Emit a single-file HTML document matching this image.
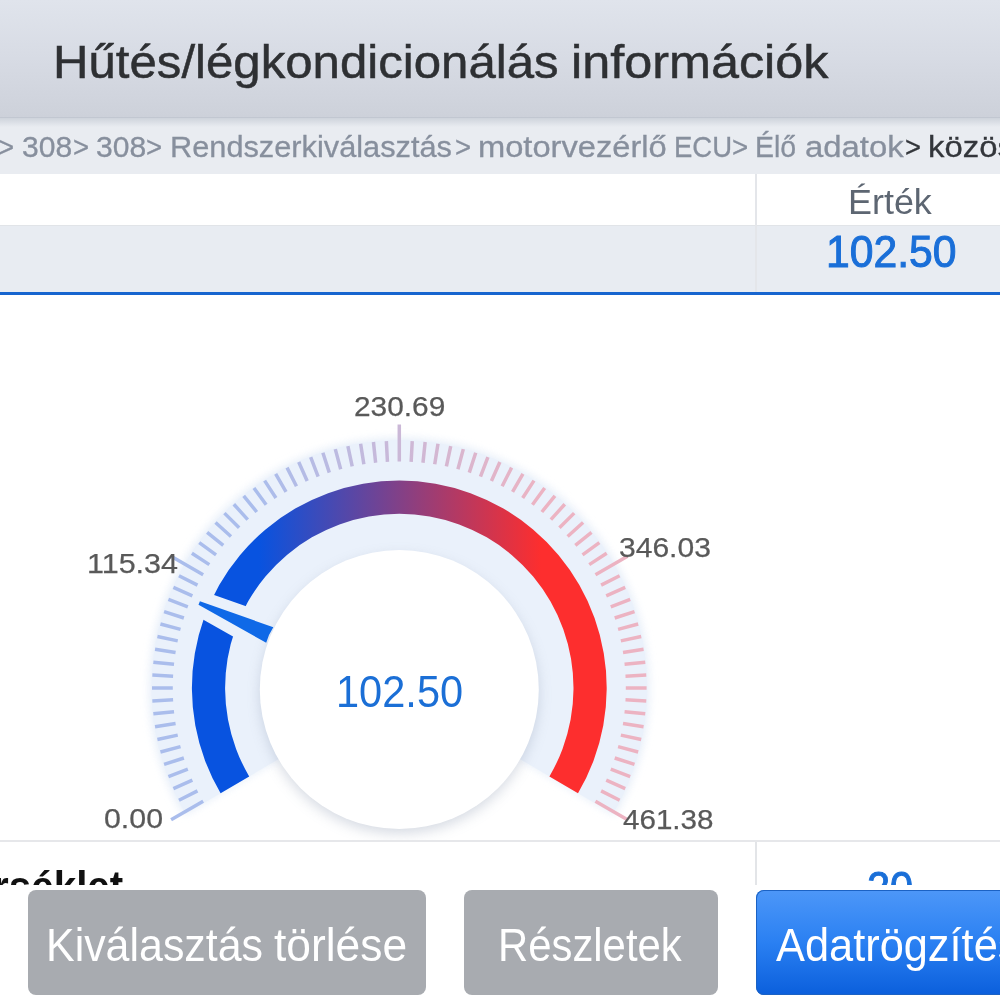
<!DOCTYPE html>
<html lang="hu"><head><meta charset="utf-8"><title>Hűtés/légkondicionálás információk</title>
<style>
html,body{margin:0;padding:0;}
body{width:1000px;height:1000px;overflow:hidden;background:#fff;font-family:"Liberation Sans",sans-serif;position:relative;}
.x{position:absolute;display:block;white-space:nowrap;line-height:1;transform-origin:0 0;font-weight:inherit;}
.hdr{position:absolute;left:0;top:0;width:1000px;height:117px;background:linear-gradient(#e0e4ec,#d7dbe4 50%,#cdd1da);}
.hdr h1{margin:0;font-weight:normal;font-size:47px;color:#2e3033;}
.hshadow{position:absolute;left:0;top:117px;width:1000px;height:10px;background:linear-gradient(rgba(140,148,165,.5) 0,rgba(150,160,175,.3) 1.5px,rgba(150,160,175,0) 100%);z-index:3;}
.crumb{position:absolute;left:0;top:117px;width:1000px;height:57px;background:#e9ecf1;color:#878f9d;overflow:hidden;}
.th{position:absolute;left:0;top:174px;width:1000px;height:51px;background:#fff;border-bottom:1px solid #e1e4e8;color:#5d6672;}
.row{position:absolute;left:0;top:226px;width:1000px;height:66px;background:#e8ecf2;border-bottom:3px solid #1765cf;color:#1a6fd8;}
.vline{position:absolute;left:755px;top:174px;width:2px;height:118px;background:#e4e6ea;}
.gauge{position:absolute;left:0;top:280px;}
.labels{position:absolute;left:0;top:0;color:#595959;}
.labels .gv{color:#1b6fd6;}
.sep{position:absolute;left:0;top:840px;width:1000px;height:2px;background:#e6e7ea;}
.next{position:absolute;left:0;top:842px;width:1000px;height:43px;overflow:hidden;background:#fff;}
.next .c1{font-weight:bold;color:#111;}
.next .c2{color:#1a6fd8;}
.vline2{position:absolute;left:755px;top:0;width:2px;height:43px;background:#e3e5e8;}
.bar{position:absolute;left:0;top:885px;width:1000px;height:115px;background:#fff;}
.btn{position:absolute;top:890px;height:105px;border-radius:8px;color:#fff;overflow:hidden;}
.b1{left:28px;width:398px;background:#a8abb0;}
.b2{left:464px;width:254px;background:#a8abb0;}
.b3{left:756px;width:260px;background:linear-gradient(#4d97f8,#2a80f2 50%,#0b5fdc);box-shadow:inset 0 0 0 1px #1b62c4;}
</style></head><body>
<div class="hdr"><h1><span class="x" style="left:53.31px;top:37.51px;font-size:47px;transform:scaleX(1.0460);-webkit-text-stroke:0.5px;">Hűtés/légkondicionálás</span> <span class="x" style="left:571.40px;top:37.51px;font-size:47px;transform:scaleX(1.0712);-webkit-text-stroke:0.5px;">információk</span></h1></div>
<div class="crumb"><span class="x" style="left:-2.44px;top:15.00px;font-size:30px;transform:scaleX(0.9184);-webkit-text-stroke:0.3px;">&gt;</span> <span class="x" style="left:21.71px;top:15.00px;font-size:30px;transform:scaleX(1.0025);-webkit-text-stroke:0.3px;">308</span> <span class="x" style="left:72.56px;top:15.00px;font-size:30px;transform:scaleX(0.9184);-webkit-text-stroke:0.3px;">&gt;</span> <span class="x" style="left:95.71px;top:15.00px;font-size:30px;transform:scaleX(1.0025);-webkit-text-stroke:0.3px;">308</span> <span class="x" style="left:146.06px;top:15.00px;font-size:30px;transform:scaleX(0.9184);-webkit-text-stroke:0.3px;">&gt;</span> <span class="x" style="left:170.35px;top:15.00px;font-size:30px;transform:scaleX(1.0247);-webkit-text-stroke:0.3px;">Rendszerkiválasztás</span> <span class="x" style="left:455.36px;top:15.00px;font-size:30px;transform:scaleX(0.9184);-webkit-text-stroke:0.3px;">&gt;</span> <span class="x" style="left:477.66px;top:15.00px;font-size:30px;transform:scaleX(1.0887);-webkit-text-stroke:0.3px;">motorvezérlő</span> <span class="x" style="left:673.69px;top:15.00px;font-size:30px;transform:scaleX(0.9183);-webkit-text-stroke:0.3px;">ECU</span> <span class="x" style="left:731.76px;top:15.00px;font-size:30px;transform:scaleX(0.9251);-webkit-text-stroke:0.3px;">&gt;</span> <span class="x" style="left:754.82px;top:15.00px;font-size:30px;transform:scaleX(0.9487);-webkit-text-stroke:0.3px;">Élő</span> <span class="x" style="left:804.93px;top:15.00px;font-size:30px;transform:scaleX(1.0953);-webkit-text-stroke:0.3px;">adatok</span> <span class="x" style="left:904.77px;top:15.00px;font-size:30px;transform:scaleX(0.9117);-webkit-text-stroke:0.3px;color:#33363b;">&gt;</span> <span class="x" style="left:927.76px;top:15.00px;font-size:30px;transform:scaleX(1.0953);-webkit-text-stroke:0.3px;color:#33363b;">közös adatok</span></div>
<div class="hshadow"></div>
<div class="th"><span class="x" style="left:848.45px;top:9.77px;font-size:35px;transform:scaleX(1.0262);">Érték</span></div>
<div class="row"><span class="x" style="left:825.63px;top:4.25px;font-size:44px;transform:scaleX(0.9695);-webkit-text-stroke:1.0px;">102.50</span></div>
<div class="vline"></div>
<svg class="gauge" width="1000" height="560" viewBox="0 280 1000 560">
<defs>
<linearGradient id="g1" gradientUnits="userSpaceOnUse" x1="259" y1="0" x2="541" y2="0">
<stop offset="0" stop-color="#0853e0"/><stop offset="1" stop-color="#fd2e2e"/>
</linearGradient>
<linearGradient id="g2" gradientUnits="userSpaceOnUse" x1="259" y1="0" x2="541" y2="0">
<stop offset="0" stop-color="#aabdec"/><stop offset="1" stop-color="#ecb3c2"/>
</linearGradient>
<clipPath id="band"><path d="M215.77 796.11A213 213 0 1 1 582.83 796.11L544.05 773.27A168 168 0 1 0 254.55 773.27Z"/></clipPath>
<filter id="glow" x="-20%" y="-20%" width="140%" height="140%"><feGaussianBlur stdDeviation="4"/></filter>
<filter id="sh" x="-30%" y="-30%" width="160%" height="160%"><feGaussianBlur stdDeviation="6.5"/></filter>
</defs>
<path d="M183.89 814.88A250 250 0 1 1 614.71 814.88L519.93 759.06A140 140 0 1 0 278.67 759.06Z" fill="#e3ecf8" filter="url(#glow)" opacity="0.9"/>
<path d="M185.62 813.87A248 248 0 1 1 612.98 813.87L516.48 757.03A136 136 0 1 0 282.12 757.03Z" fill="#eaf1fb"/>
<path d="M197.49 790.83L178.95 800.27M192.38 780.13L173.38 788.59M187.84 769.17L168.43 776.62M183.89 757.99L164.10 764.42M180.52 746.62L160.43 752.01M177.75 735.09L157.40 739.42M175.59 723.43L155.04 726.69M174.04 711.68L153.35 713.85M173.11 699.85L152.34 700.94M172.80 688.00L152.00 688.00M173.11 676.15L152.34 675.06M174.04 664.32L153.35 662.15M175.59 652.57L155.04 649.31M177.75 640.91L157.40 636.58M180.52 629.38L160.43 623.99M183.89 618.01L164.10 611.58M187.84 606.83L168.43 599.38M192.38 595.87L173.38 587.41M197.49 585.17L178.95 575.73M209.34 564.64L191.90 553.31M216.06 554.87L199.23 542.64M223.28 545.46L207.11 532.37M230.98 536.44L215.52 522.52M239.14 527.84L224.43 513.13M247.74 519.68L233.82 504.22M256.76 511.98L243.67 495.81M266.17 504.76L253.94 487.93M275.94 498.04L264.61 480.60M286.05 491.85L275.65 473.83M296.47 486.19L287.03 467.65M307.17 481.08L298.71 462.08M318.13 476.54L310.68 457.13M329.31 472.59L322.88 452.80M340.68 469.22L335.29 449.13M352.21 466.45L347.88 446.10M363.87 464.29L360.61 443.74M375.62 462.74L373.45 442.05M387.45 461.81L386.36 441.04M411.15 461.81L412.24 441.04M422.98 462.74L425.15 442.05M434.73 464.29L437.99 443.74M446.39 466.45L450.72 446.10M457.92 469.22L463.31 449.13M469.29 472.59L475.72 452.80M480.47 476.54L487.92 457.13M491.43 481.08L499.89 462.08M502.13 486.19L511.57 467.65M512.55 491.85L522.95 473.83M522.66 498.04L533.99 480.60M532.43 504.76L544.66 487.93M541.84 511.98L554.93 495.81M550.86 519.68L564.78 504.22M559.46 527.84L574.17 513.13M567.62 536.44L583.08 522.52M575.32 545.46L591.49 532.37M582.54 554.87L599.37 542.64M589.26 564.64L606.70 553.31M601.11 585.17L619.65 575.73M606.22 595.87L625.22 587.41M610.76 606.83L630.17 599.38M614.71 618.01L634.50 611.58M618.08 629.38L638.17 623.99M620.85 640.91L641.20 636.58M623.01 652.57L643.56 649.31M624.56 664.32L645.25 662.15M625.49 676.15L646.26 675.06M625.80 688.00L646.60 688.00M625.49 699.85L646.26 700.94M624.56 711.68L645.25 713.85M623.01 723.43L643.56 726.69M620.85 735.09L641.20 739.42M618.08 746.62L638.17 752.01M614.71 757.99L634.50 764.42M610.76 769.17L630.17 776.62M606.22 780.13L625.22 788.59M601.11 790.83L619.65 800.27" stroke="url(#g2)" stroke-width="3.5" fill="none"/>
<path d="M203.15 801.25L171.10 819.75M203.15 574.75L171.10 556.25M399.30 461.50L399.30 424.50M595.45 574.75L627.50 556.25M595.45 801.25L627.50 819.75" stroke="url(#g2)" stroke-width="3.5" fill="none"/>
<path d="M220.60 793.26A207.4 207.4 0 1 1 578.00 793.26L549.40 776.41A174.2 174.2 0 1 0 249.20 776.41Z" fill="url(#g1)"/>
<g clip-path="url(#band)"><path d="M199.9 601.3L273.3 627.2Q268.5 634.5 266.2 642.8L198.5 604.7Z" fill="#eaf1fb" stroke="#eaf1fb" stroke-width="21.5" stroke-linejoin="bevel"/></g>
<circle cx="399.3" cy="694.5" r="139" fill="#8c99b0" opacity="0.36" filter="url(#sh)"/>
<circle cx="399.3" cy="689.5" r="139.5" fill="#ffffff"/>
<path d="M199.9 601.3L273.3 627.2Q268.5 634.5 266.2 642.8L198.5 604.7Z" fill="#0f69e7"/>
</svg>
<div class="labels"><span class="x" style="left:103.60px;top:803.54px;font-size:28.3px;transform:scaleX(1.0712);-webkit-text-stroke:0.25px;">0.00</span> <span class="x" style="left:86.60px;top:548.74px;font-size:28.3px;transform:scaleX(1.0778);-webkit-text-stroke:0.25px;">115.34</span> <span class="x" style="left:354.40px;top:392.04px;font-size:28.3px;transform:scaleX(1.0550);-webkit-text-stroke:0.25px;">230.69</span> <span class="x" style="left:618.68px;top:532.54px;font-size:28.3px;transform:scaleX(1.0613);-webkit-text-stroke:0.25px;">346.03</span> <span class="x" style="left:623.12px;top:804.84px;font-size:28.3px;transform:scaleX(1.0456);-webkit-text-stroke:0.25px;">461.38</span><div class="gv"><span class="x" style="left:335.72px;top:670.78px;font-size:43.5px;transform:scaleX(0.9554);">102.50</span></div></div>
<div class="sep"></div>
<div class="next"><div class="c1"><span class="x" style="left:-118.81px;top:21.91px;font-size:45px;transform:scaleX(0.8967);">Hőmérséklet</span></div><div class="c2"><span class="x" style="left:867.08px;top:23.75px;font-size:44px;transform:scaleX(0.9400);-webkit-text-stroke:1.0px;">20</span></div><div class="vline2"></div></div>
<div class="bar"></div>
<div class="btn b1"><span class="x" style="left:18.47px;top:31.86px;font-size:46px;transform:scaleX(0.9330);">Kiválasztás</span> <span class="x" style="left:246.12px;top:31.86px;font-size:46px;transform:scaleX(0.9638);">törlése</span></div>
<div class="btn b2"><span class="x" style="left:34.46px;top:31.86px;font-size:46px;transform:scaleX(0.9095);">Részletek</span></div>
<div class="btn b3"><span class="x" style="left:20.10px;top:31.86px;font-size:46px;transform:scaleX(0.9426);">Adatrögzítés</span></div>
</body></html>
